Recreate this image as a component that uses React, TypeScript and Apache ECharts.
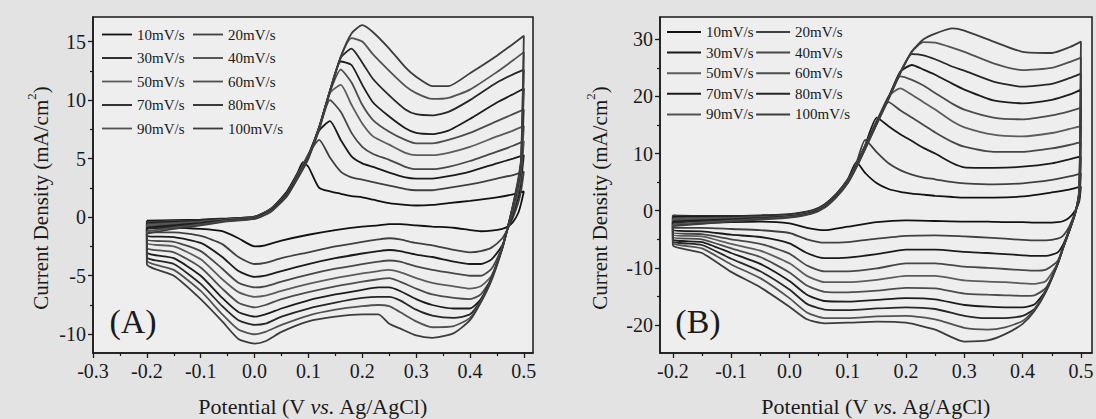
import React, { useEffect, useRef } from 'react';
import * as echarts from 'echarts';

const RATES = ['10mV/s', '20mV/s', '30mV/s', '40mV/s', '50mV/s', '60mV/s', '70mV/s', '80mV/s', '90mV/s', '100mV/s'];
const COLORS = ['#111111', '#404040', '#1a1a1a', '#474747', '#5c5c5c', '#4c4c4c', '#1c1c1c', '#262626', '#525252', '#3c3c3c'];

// ---------- Panel A ----------
const A_FWD_X = [-0.2, -0.15, -0.1, -0.05, 0, 0.03, 0.06, 0.08, 0.09, 0.1, 0.12, 0.14, 0.16, 0.18, 0.2, 0.22, 0.25, 0.28, 0.3, 0.33, 0.36, 0.4, 0.45, 0.48, 0.5];
const A_F10 = [-0.3, -0.25, -0.2, -0.1, 0.05, 0.7, 2.2, 3.8, 4.7, 4.3, 2.5, 2.2, 2.0, 1.8, 1.7, 1.5, 1.2, 1.05, 1.0, 1.05, 1.2, 1.4, 1.7, 1.95, 2.2];
const A_F20 = [-0.4, -0.32, -0.25, -0.12, 0.05, 0.7, 2.1, 3.7, 4.5, 5.4, 6.6, 5.1, 3.9, 3.4, 3.2, 3.0, 2.7, 2.4, 2.3, 2.3, 2.5, 2.8, 3.3, 3.6, 3.9];
const A_F30 = [-0.5, -0.4, -0.3, -0.15, 0.0, 0.7, 2.1, 3.6, 4.4, 5.3, 7.4, 8.2, 6.6, 5.2, 4.6, 4.3, 3.8, 3.4, 3.3, 3.3, 3.5, 3.9, 4.6, 5.0, 5.3];
const A_F40 = [-0.6, -0.48, -0.35, -0.18, 0.0, 0.7, 2.0, 3.6, 4.4, 5.3, 7.6, 10.0, 9.0, 7.2, 6.0, 5.4, 4.9, 4.3, 4.1, 4.1, 4.3, 4.8, 5.6, 6.1, 6.5];
const A_F50 = [-0.7, -0.55, -0.4, -0.2, -0.05, 0.65, 2.0, 3.6, 4.4, 5.3, 7.7, 10.6, 11.3, 9.6, 8.0, 6.9, 6.2, 5.5, 5.3, 5.3, 5.5, 6.0, 6.9, 7.4, 7.8];
const A_F60 = [-0.8, -0.62, -0.45, -0.22, -0.05, 0.6, 2.0, 3.5, 4.3, 5.2, 7.7, 10.7, 12.6, 11.5, 9.6, 8.3, 7.3, 6.6, 6.3, 6.3, 6.6, 7.2, 8.2, 8.8, 9.2];
const A_F70 = [-0.9, -0.7, -0.5, -0.25, -0.08, 0.6, 1.9, 3.5, 4.3, 5.2, 7.7, 10.8, 13.3, 13.0, 11.3, 9.8, 8.6, 7.6, 7.2, 7.1, 7.4, 8.4, 9.8, 10.5, 11.0];
const A_F80 = [-1.0, -0.78, -0.55, -0.28, -0.1, 0.55, 1.9, 3.4, 4.2, 5.1, 7.6, 10.8, 13.6, 14.4, 13.2, 11.8, 10.4, 9.2, 8.8, 8.7, 9.0, 10.0, 11.5, 12.2, 12.6];
const A_F90 = [-1.2, -0.9, -0.62, -0.3, -0.12, 0.5, 1.8, 3.4, 4.2, 5.1, 7.6, 10.8, 13.7, 15.3, 15.0, 13.9, 12.5, 11.2, 10.6, 10.1, 10.2, 10.9, 12.4, 13.4, 14.1];
const A_F100 = [-1.4, -1.0, -0.7, -0.35, -0.15, 0.45, 1.8, 3.3, 4.1, 5.0, 7.5, 10.7, 13.7, 15.7, 16.4, 15.8, 14.4, 12.8, 12.0, 11.2, 11.2, 12.3, 13.8, 14.8, 15.5];

const A_REV_X = [0.495, 0.49, 0.48, 0.47, 0.46, 0.44, 0.42, 0.4, 0.37, 0.33, 0.3, 0.27, 0.25, 0.23, 0.2, 0.15, 0.1, 0.05, 0.02, 0.0, -0.03, -0.06, -0.1, -0.15, -0.2];
const A_R10 = [1.2, 0.4, -0.4, -0.8, -1.0, -1.15, -1.2, -1.1, -0.9, -0.8, -0.7, -0.6, -0.6, -0.7, -0.8, -1.1, -1.5, -2.0, -2.4, -2.5, -1.8, -1.2, -1.0, -0.9, -0.9];
const A_R20 = [2.3, 1.3, 0.0, -1.0, -1.8, -2.6, -2.9, -3.0, -2.8, -2.4, -2.2, -1.9, -1.8, -1.9, -2.1, -2.5, -3.0, -3.5, -3.9, -4.0, -3.4, -2.3, -1.6, -1.3, -1.3];
const A_R30 = [3.2, 1.8, 0.3, -1.0, -2.4, -3.6, -4.0, -4.0, -3.8, -3.4, -3.2, -2.9, -2.8, -2.9, -3.1, -3.5, -4.0, -4.6, -5.0, -5.1, -4.6, -3.4, -2.2, -1.7, -1.6];
const A_R40 = [3.8, 2.2, 0.5, -0.9, -2.5, -4.4, -5.0, -5.0, -4.8, -4.5, -4.2, -3.8, -3.7, -3.8, -4.0, -4.4, -4.9, -5.5, -5.9, -6.0, -5.6, -4.4, -2.9, -2.1, -1.9];
const A_R50 = [4.2, 2.6, 0.7, -0.9, -2.6, -5.0, -5.9, -6.1, -5.9, -5.6, -5.2, -4.7, -4.5, -4.6, -4.8, -5.2, -5.7, -6.3, -6.7, -6.8, -6.4, -5.3, -3.6, -2.5, -2.2];
const A_R60 = [4.5, 2.9, 0.8, -0.9, -2.6, -5.2, -6.6, -7.0, -6.9, -6.6, -6.1, -5.5, -5.2, -5.3, -5.5, -5.9, -6.4, -7.0, -7.5, -7.7, -7.3, -6.1, -4.3, -3.0, -2.6];
const A_R70 = [4.7, 3.0, 0.9, -0.9, -2.6, -5.2, -7.0, -7.8, -7.8, -7.5, -7.0, -6.3, -6.0, -6.0, -6.2, -6.6, -7.1, -7.8, -8.3, -8.5, -8.1, -6.9, -5.0, -3.5, -3.0];
const A_R80 = [4.8, 3.1, 1.0, -0.9, -2.6, -5.2, -7.1, -8.3, -8.6, -8.4, -7.9, -7.1, -6.8, -6.8, -6.9, -7.3, -7.8, -8.5, -9.1, -9.2, -8.8, -7.6, -5.7, -4.0, -3.4];
const A_R90 = [4.9, 3.2, 1.0, -0.9, -2.6, -5.3, -7.2, -8.6, -9.3, -9.4, -8.9, -8.1, -7.6, -7.5, -7.6, -7.9, -8.4, -9.2, -9.8, -10.0, -9.6, -8.3, -6.3, -4.5, -3.7];
const A_R100 = [5.0, 3.4, 1.1, -0.9, -2.7, -5.4, -7.3, -8.8, -9.9, -10.3, -10.1, -9.5, -9.1, -8.3, -8.3, -8.5, -8.9, -9.8, -10.6, -10.8, -10.4, -8.9, -7.0, -5.0, -4.0];

// ---------- Panel B ----------
const B_FWD_X = [-0.2, -0.15, -0.1, -0.05, 0, 0.04, 0.06, 0.08, 0.1, 0.115, 0.13, 0.15, 0.17, 0.19, 0.21, 0.23, 0.25, 0.28, 0.3, 0.35, 0.4, 0.45, 0.48, 0.5];
const B_F10 = [-0.8, -0.9, -0.9, -0.8, -0.6, 0.1, 1.1, 2.9, 5.5, 8.5, 6.6, 4.8, 3.8, 3.3, 3.0, 2.8, 2.6, 2.4, 2.3, 2.3, 2.5, 3.2, 3.7, 4.2];
const B_F20 = [-0.9, -1.0, -1.0, -0.9, -0.7, 0.0, 1.0, 2.8, 5.4, 8.4, 12.4, 10.2, 8.3, 7.1, 6.3, 5.8, 5.5, 5.0, 4.8, 4.6, 4.8, 5.4, 6.0, 6.5];
const B_F30 = [-1.1, -1.1, -1.1, -1.0, -0.8, -0.1, 0.9, 2.7, 5.3, 8.3, 11.5, 16.3, 14.8, 13.4, 12.2, 11.0, 10.0, 8.3, 7.6, 7.5, 7.7, 8.3, 9.0, 9.5];
const B_F40 = [-1.3, -1.25, -1.2, -1.1, -0.85, -0.15, 0.9, 2.7, 5.3, 8.2, 11.4, 15.8, 19.0, 17.6, 16.3, 15.0, 13.7, 12.0, 11.2, 10.3, 10.3, 10.9, 11.5, 12.0];
const B_F50 = [-1.5, -1.4, -1.3, -1.15, -0.9, -0.2, 0.8, 2.6, 5.2, 8.1, 11.3, 15.7, 20.0, 21.4, 20.3, 19.0, 17.7, 15.6, 14.6, 13.3, 13.0, 13.6, 14.3, 14.8];
const B_F60 = [-1.7, -1.55, -1.4, -1.2, -0.95, -0.25, 0.8, 2.6, 5.1, 8.0, 11.2, 15.6, 19.9, 23.5, 22.9, 21.9, 20.6, 18.7, 17.7, 16.3, 16.0, 16.7, 17.4, 18.0];
const B_F70 = [-1.9, -1.7, -1.5, -1.3, -1.0, -0.3, 0.7, 2.5, 5.0, 7.9, 11.1, 15.5, 19.8, 24.3, 25.5, 24.7, 23.8, 22.2, 21.2, 19.3, 18.8, 19.4, 20.3, 21.2];
const B_F80 = [-2.1, -1.85, -1.6, -1.35, -1.05, -0.35, 0.7, 2.5, 5.0, 7.8, 11.0, 15.4, 19.7, 24.2, 27.4, 27.2, 26.5, 25.2, 24.5, 22.6, 21.7, 22.2, 23.2, 24.0];
const B_F90 = [-2.4, -2.05, -1.75, -1.45, -1.1, -0.4, 0.6, 2.4, 4.9, 7.7, 10.9, 15.3, 19.6, 24.1, 27.8, 29.5, 29.4, 28.5, 27.8, 25.8, 24.6, 25.0, 26.0, 26.8];
const B_F100 = [-2.7, -2.3, -1.9, -1.55, -1.2, -0.45, 0.5, 2.3, 4.8, 7.6, 10.8, 15.2, 19.5, 24.0, 27.9, 30.0, 31.0, 31.9, 31.5, 29.6, 27.8, 27.6, 28.6, 29.6];

const B_REV_X = [0.497, 0.49, 0.48, 0.47, 0.46, 0.44, 0.42, 0.4, 0.37, 0.34, 0.3, 0.25, 0.2, 0.15, 0.1, 0.06, 0.03, 0.0, -0.05, -0.1, -0.15, -0.2];
const B_R10 = [1.6, 0.0, -1.2, -1.8, -2.0, -2.1, -2.1, -2.0, -2.0, -1.9, -1.9, -1.8, -1.7, -2.0, -2.8, -3.4, -3.0, -2.2, -1.9, -2.0, -2.2, -2.4];
const B_R20 = [2.0, -0.3, -2.8, -4.3, -4.9, -5.2, -5.2, -5.1, -4.9, -4.7, -4.5, -4.3, -4.4, -4.9, -5.5, -5.6, -5.0, -3.9, -3.4, -3.2, -3.0, -3.0];
const B_R30 = [2.3, -0.4, -3.3, -5.8, -7.3, -7.9, -7.9, -7.8, -7.6, -7.4, -7.2, -6.8, -6.8, -7.6, -8.2, -8.3, -7.4, -5.7, -4.6, -4.2, -3.6, -3.4];
const B_R40 = [2.5, -0.4, -3.4, -6.2, -8.8, -10.3, -10.5, -10.4, -10.2, -10.0, -9.8, -9.2, -9.2, -10.1, -10.6, -10.6, -9.6, -7.5, -5.8, -5.0, -4.1, -3.8];
const B_R50 = [2.7, -0.5, -3.5, -6.3, -9.2, -12.3, -12.8, -12.7, -12.5, -12.4, -12.2, -11.4, -11.4, -12.1, -12.5, -12.5, -11.4, -9.2, -7.0, -5.8, -4.5, -4.2];
const B_R60 = [2.9, -0.5, -3.5, -6.3, -9.3, -13.5, -14.8, -14.9, -14.8, -14.7, -14.5, -13.6, -13.5, -14.0, -14.3, -14.2, -13.1, -10.8, -8.1, -6.6, -5.0, -4.6];
const B_R70 = [3.1, -0.5, -3.5, -6.3, -9.3, -13.9, -16.4, -16.9, -16.9, -16.8, -16.5, -15.5, -15.3, -15.6, -15.9, -15.8, -14.7, -12.3, -9.3, -7.4, -5.5, -5.0];
const B_R80 = [3.3, -0.5, -3.5, -6.3, -9.3, -14.0, -17.2, -18.4, -18.8, -18.8, -18.4, -17.2, -16.9, -17.1, -17.4, -17.3, -16.3, -13.8, -10.6, -8.4, -6.0, -5.3];
const B_R90 = [3.5, -0.5, -3.5, -6.3, -9.3, -14.0, -17.4, -19.3, -20.4, -20.8, -20.5, -19.0, -18.4, -18.5, -18.8, -18.8, -17.8, -15.3, -11.8, -9.4, -6.6, -5.6];
const B_R100 = [3.7, -0.5, -3.6, -6.4, -9.4, -14.2, -17.6, -19.8, -21.6, -22.7, -22.9, -20.8, -19.6, -19.4, -19.6, -19.7, -19.0, -16.8, -13.4, -10.7, -7.4, -6.0];

// ---------- Tick labels ----------
const A_XTICKS = [-0.3, -0.2, -0.1, 0, 0.1, 0.2, 0.3, 0.4, 0.5];
const A_XMINOR = [-0.25, -0.15, -0.05, 0.05, 0.15, 0.25, 0.35, 0.45];
const A_YTICKS = [-10, -5, 0, 5, 10, 15];
const A_YMINOR = [-7.5, -2.5, 2.5, 7.5, 12.5];
const B_XTICKS = [-0.2, -0.1, 0, 0.1, 0.2, 0.3, 0.4, 0.5];
const B_XMINOR = [-0.15, -0.05, 0.05, 0.15, 0.25, 0.35, 0.45];
const B_YTICKS = [-20, -10, 0, 10, 20, 30];
const B_YMINOR = [-15, -5, 5, 15, 25];

const A_FWD = [A_F10, A_F20, A_F30, A_F40, A_F50, A_F60, A_F70, A_F80, A_F90, A_F100];
const A_REV = [A_R10, A_R20, A_R30, A_R40, A_R50, A_R60, A_R70, A_R80, A_R90, A_R100];
const B_FWD = [B_F10, B_F20, B_F30, B_F40, B_F50, B_F60, B_F70, B_F80, B_F90, B_F100];
const B_REV = [B_R10, B_R20, B_R30, B_R40, B_R50, B_R60, B_R70, B_R80, B_R90, B_R100];

const FONT = 'Liberation Serif';
const INK = '#1a1a1a';
const LEGEND_LINE = 'path://M0,0L30,0L30,1.8L0,1.8Z';

function loop(fx: number[], fy: number[], rx: number[], ry: number[]) {
  const pts: number[][] = [];
  fx.forEach((x, k) => pts.push([x, fy[k]]));
  rx.forEach((x, k) => pts.push([x, ry[k]]));
  pts.push([fx[0], fy[0]]);
  return pts;
}

function mainX(grid: number, min: number, max: number, ticks: number[]) {
  return {
    gridIndex: grid, type: 'value', min, max,
    axisLine: { show: true, onZero: false, lineStyle: { color: INK, width: 1.5 } },
    axisTick: { show: true, inside: false, length: 5, customValues: ticks, lineStyle: { color: INK, width: 1.3 } },
    axisLabel: { show: true, customValues: ticks, formatter: (v: number) => v.toFixed(1), fontFamily: FONT, fontSize: 20, color: INK, margin: 8 },
    splitLine: { show: false },
    name: '{a|Potential (V }{i|vs.}{a| Ag/AgCl)}',
    nameLocation: 'middle', nameGap: 42,
    nameTextStyle: {
      rich: {
        a: { fontFamily: FONT, fontSize: 22, color: INK },
        i: { fontFamily: FONT, fontSize: 22, color: INK, fontStyle: 'italic' },
      },
    },
  };
}
function minorX(grid: number, min: number, max: number, ticks: number[]) {
  return {
    gridIndex: grid, type: 'value', min, max, position: 'bottom',
    axisLine: { show: false, onZero: false },
    axisTick: { show: true, inside: false, length: 3, customValues: ticks, lineStyle: { color: INK, width: 1.2 } },
    axisLabel: { show: false },
    splitLine: { show: false },
  };
}
function mainY(grid: number, min: number, max: number, ticks: number[]) {
  return {
    gridIndex: grid, type: 'value', min, max,
    axisLine: { show: true, onZero: false, lineStyle: { color: INK, width: 1.5 } },
    axisTick: { show: true, inside: false, length: 5, customValues: ticks, lineStyle: { color: INK, width: 1.3 } },
    axisLabel: { show: true, customValues: ticks, formatter: (v: number) => String(v), fontFamily: FONT, fontSize: 20, color: INK, margin: 7 },
    splitLine: { show: false },
  };
}
function minorY(grid: number, min: number, max: number, ticks: number[]) {
  return {
    gridIndex: grid, type: 'value', min, max, position: 'left',
    axisLine: { show: false, onZero: false },
    axisTick: { show: true, inside: false, length: 3, customValues: ticks, lineStyle: { color: INK, width: 1.2 } },
    axisLabel: { show: false },
    splitLine: { show: false },
  };
}

function yTitle(x: number, y: number) {
  return {
    type: 'text', x, y, rotation: Math.PI / 2, silent: true,
    style: {
      text: '{a|Current Density (mA/cm}{s|2}{a|)}',
      align: 'center', verticalAlign: 'middle',
      rich: {
        a: { fontFamily: FONT, fontSize: 21, fill: INK, lineHeight: 26, verticalAlign: 'bottom' },
        s: { fontFamily: FONT, fontSize: 13, fill: INK, lineHeight: 14, verticalAlign: 'top' },
      },
    },
  };
}

const A_X = [-0.3, 0.517];
const A_Y = [-11.6, 17.1];
const B_X = [-0.222, 0.519];
const B_Y = [-24.9, 33.9];

function buildOption() {
  const series: any[] = [];
  RATES.forEach((name, i) => {
    series.push({
      name, type: 'line', xAxisIndex: 0, yAxisIndex: 0,
      data: loop(A_FWD_X, A_FWD[i], A_REV_X, A_REV[i]),
      symbol: 'none', showSymbol: false, smooth: 0.2, silent: true,
      lineStyle: { color: COLORS[i], width: 1.8 }, itemStyle: { color: COLORS[i] },
    });
  });
  RATES.forEach((name, i) => {
    series.push({
      name, type: 'line', xAxisIndex: 2, yAxisIndex: 2,
      data: loop(B_FWD_X, B_FWD[i], B_REV_X, B_REV[i]),
      symbol: 'none', showSymbol: false, smooth: 0.2, silent: true,
      lineStyle: { color: COLORS[i], width: 1.8 }, itemStyle: { color: COLORS[i] },
    });
  });
  const legendText = { fontFamily: FONT, fontSize: 15, color: INK };
  return {
    animation: false,
    backgroundColor: '#e3e3e3',
    grid: [
      { left: 93, right: 563, top: 17, bottom: 66, show: true, backgroundColor: '#eeeeee', borderColor: INK, borderWidth: 1.5, outerBoundsMode: 'none' },
      { left: 660, right: 4, top: 17, bottom: 66, show: true, backgroundColor: '#eeeeee', borderColor: INK, borderWidth: 1.5, outerBoundsMode: 'none' },
    ],
    xAxis: [
      mainX(0, A_X[0], A_X[1], A_XTICKS), minorX(0, A_X[0], A_X[1], A_XMINOR),
      mainX(1, B_X[0], B_X[1], B_XTICKS), minorX(1, B_X[0], B_X[1], B_XMINOR),
    ],
    yAxis: [
      mainY(0, A_Y[0], A_Y[1], A_YTICKS), minorY(0, A_Y[0], A_Y[1], A_YMINOR),
      mainY(1, B_Y[0], B_Y[1], B_YTICKS), minorY(1, B_Y[0], B_Y[1], B_YMINOR),
    ],
    legend: [
      {
        data: RATES, left: 102, top: 27, width: 200, orient: 'horizontal', padding: 0,
        icon: LEGEND_LINE, itemWidth: 30, itemHeight: 12, itemGap: 8.5, selectedMode: false,
        textStyle: { ...legendText, lineHeight: 12 },
      },
      {
        data: RATES, left: 667, top: 23, width: 200, orient: 'horizontal', padding: 0,
        icon: LEGEND_LINE, itemWidth: 34, itemHeight: 18, itemGap: 2.6, selectedMode: false,
        textStyle: { ...legendText, lineHeight: 18 },
      },
    ],
    graphic: [
      yTitle(38, 198),
      yTitle(597, 198),
      { type: 'text', x: 133, y: 321, silent: true, style: { text: '(A)', fontFamily: FONT, fontSize: 34, fill: INK, align: 'center', verticalAlign: 'middle' } },
      { type: 'text', x: 698, y: 321, silent: true, style: { text: '(B)', fontFamily: FONT, fontSize: 34, fill: INK, align: 'center', verticalAlign: 'middle' } },
    ],
    series,
  };
}

export default function App() {
  const ref = useRef<HTMLDivElement>(null);
  useEffect(() => {
    if (!ref.current) return;
    const chart = echarts.init(ref.current, null, { renderer: 'svg', width: 1096, height: 419 });
    chart.setOption(buildOption() as any);
    return () => chart.dispose();
  }, []);
  return <div ref={ref} style={{ position: 'absolute', left: 0, top: 0, width: 1096, height: 419 }} />;
}
